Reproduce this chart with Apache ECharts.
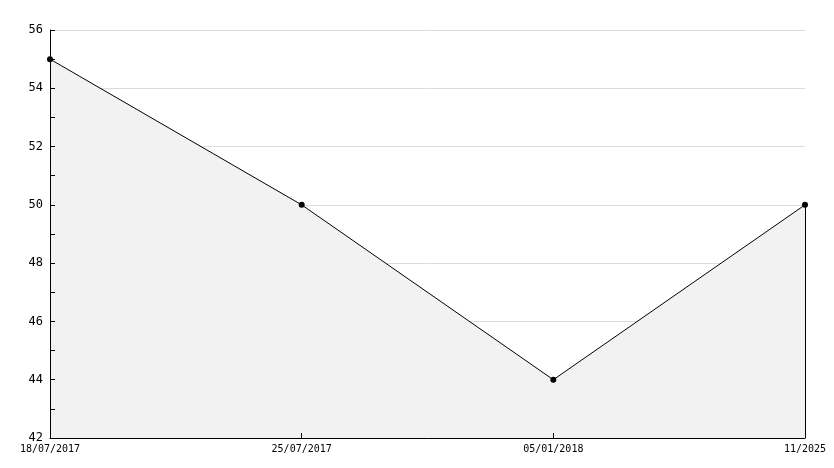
<!DOCTYPE html>
<html>
<head>
<meta charset="utf-8">
<script src="https://cdn.jsdelivr.net/npm/echarts@6/dist/echarts.min.js"></script>
<style>
  html, body { margin: 0; padding: 0; background: #fff; }
  #chart { width: 834px; height: 468px; }
</style>
</head>
<body>
<div id="chart"></div>
<script>
const categories = ['18/07/2017', '25/07/2017', '05/01/2018', '11/2025']
const values = [55, 50, 44, 50]
const yMin = 42
const yMax = 56
const yStep = 2

const chart = echarts.init(document.getElementById('chart'))
const font = 'DejaVu Sans Mono'
const last = categories.length - 1

chart.setOption({
  animation: false,
  grid: { left: 50, right: 29, top: 30, bottom: 30, containLabel: false },
  xAxis: {
    type: 'category',
    boundaryGap: false,
    data: categories,
    z: 5,
    axisLine: { lineStyle: { color: '#000', width: 1 } },
    axisTick: { inside: true, length: 5, lineStyle: { color: '#000' } },
    axisLabel: { color: '#000', fontFamily: font, fontSize: 10, margin: 6 },
    splitLine: { show: false }
  },
  yAxis: [
    {
      // grid lines only, kept under the filled area
      type: 'value',
      min: yMin,
      max: yMax,
      interval: yStep,
      z: 0,
      axisLine: { show: false },
      axisTick: { show: false },
      axisLabel: { show: false },
      splitLine: { show: true, lineStyle: { color: '#dcdcdc', width: 1 } }
    },
    {
      // axis line, ticks and labels drawn over the area
      type: 'value',
      position: 'left',
      min: yMin,
      max: yMax,
      interval: yStep,
      z: 5,
      axisLine: { show: true, lineStyle: { color: '#000', width: 1 } },
      axisTick: { show: true, inside: true, length: 5, lineStyle: { color: '#000' } },
      minorTick: { show: true, splitNumber: 2, length: 5, lineStyle: { color: '#000' } },
      axisLabel: { color: '#000', fontFamily: font, fontSize: 12, margin: 7 },
      splitLine: { show: false }
    }
  ],
  series: [{
    type: 'line',
    data: values,
    yAxisIndex: 0,
    z: 2,
    symbol: 'circle',
    symbolSize: 6,
    itemStyle: { color: '#000' },
    lineStyle: { color: '#000', width: 1 },
    areaStyle: { color: '#f2f2f2', opacity: 1, origin: 'start' },
    markLine: {
      silent: true,
      symbol: 'none',
      label: { show: false },
      lineStyle: { color: '#000', width: 1, type: 'solid' },
      data: [[
        { coord: [categories[last], yMin] },
        { coord: [categories[last], values[last]] }
      ]]
    }
  }]
})
</script>
</body>
</html>
